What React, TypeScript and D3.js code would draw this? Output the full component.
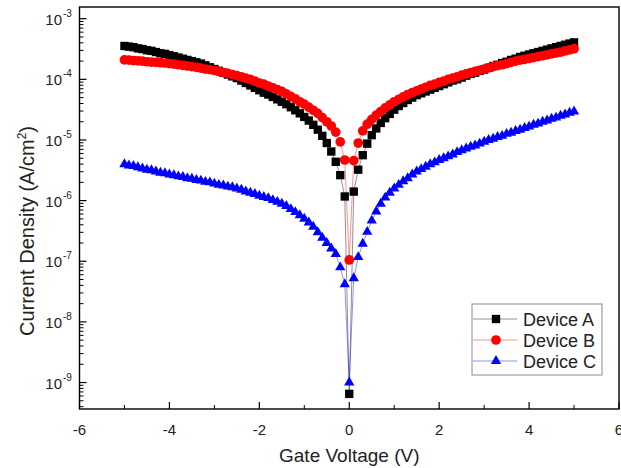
import React from 'react';
import * as d3 from 'd3';

// Gate voltage sweep (V)
const voltage = [
  -5.0, -4.9, -4.8, -4.7, -4.6, -4.5, -4.4, -4.3, -4.2, -4.1,
  -4.0, -3.9, -3.8, -3.7, -3.6, -3.5, -3.4, -3.3, -3.2, -3.1,
  -3.0, -2.9, -2.8, -2.7, -2.6, -2.5, -2.4, -2.3, -2.2, -2.1,
  -2.0, -1.9, -1.8, -1.7, -1.6, -1.5, -1.4, -1.3, -1.2, -1.1,
  -1.0, -0.9, -0.8, -0.7, -0.6, -0.5, -0.4, -0.3, -0.2, -0.1,
  0.0,
  0.1, 0.2, 0.3, 0.4, 0.5, 0.6, 0.7, 0.8, 0.9, 1.0,
  1.1, 1.2, 1.3, 1.4, 1.5, 1.6, 1.7, 1.8, 1.9, 2.0,
  2.1, 2.2, 2.3, 2.4, 2.5, 2.6, 2.7, 2.8, 2.9, 3.0,
  3.1, 3.2, 3.3, 3.4, 3.5, 3.6, 3.7, 3.8, 3.9, 4.0,
  4.1, 4.2, 4.3, 4.4, 4.5, 4.6, 4.7, 4.8, 4.9, 5.0,
];

// Current density (A/cm^2)
const deviceA = [
  3.55e-4, 3.47e-4, 3.39e-4, 3.24e-4, 3.16e-4, 3.02e-4, 2.95e-4, 2.82e-4, 2.69e-4, 2.63e-4,
  2.51e-4, 2.40e-4, 2.29e-4, 2.19e-4, 2.09e-4, 2.00e-4, 1.91e-4, 1.82e-4, 1.70e-4, 1.58e-4,
  1.48e-4, 1.38e-4, 1.29e-4, 1.20e-4, 1.12e-4, 1.05e-4, 9.55e-5, 8.71e-5, 7.94e-5, 7.24e-5,
  6.61e-5, 6.03e-5, 5.62e-5, 5.13e-5, 4.68e-5, 4.27e-5, 3.89e-5, 3.47e-5, 3.09e-5, 2.75e-5,
  2.40e-5, 2.09e-5, 1.78e-5, 1.48e-5, 1.17e-5, 8.91e-6, 6.46e-6, 4.37e-6, 2.63e-6, 1.17e-6,
  6.5e-10,
  1.41e-6, 3.24e-6, 5.62e-6, 8.71e-6, 1.20e-5, 1.55e-5, 1.91e-5, 2.29e-5, 2.69e-5, 3.16e-5,
  3.63e-5, 4.07e-5, 4.57e-5, 5.01e-5, 5.50e-5, 5.89e-5, 6.31e-5, 6.76e-5, 7.24e-5, 7.76e-5,
  8.32e-5, 8.91e-5, 9.55e-5, 1.00e-4, 1.07e-4, 1.15e-4, 1.23e-4, 1.29e-4, 1.38e-4, 1.45e-4,
  1.55e-4, 1.66e-4, 1.74e-4, 1.86e-4, 1.95e-4, 2.09e-4, 2.19e-4, 2.34e-4, 2.45e-4, 2.57e-4,
  2.69e-4, 2.82e-4, 2.95e-4, 3.09e-4, 3.24e-4, 3.39e-4, 3.55e-4, 3.72e-4, 3.89e-4, 4.07e-4,
];

const deviceB = [
  2.09e-4, 2.07e-4, 2.04e-4, 2.02e-4, 2.00e-4, 1.95e-4, 1.93e-4, 1.91e-4, 1.88e-4, 1.86e-4,
  1.82e-4, 1.78e-4, 1.74e-4, 1.70e-4, 1.66e-4, 1.62e-4, 1.58e-4, 1.53e-4, 1.48e-4, 1.45e-4,
  1.40e-4, 1.35e-4, 1.29e-4, 1.26e-4, 1.20e-4, 1.15e-4, 1.10e-4, 1.05e-4, 1.00e-4, 9.33e-5,
  8.71e-5, 8.32e-5, 7.76e-5, 7.24e-5, 6.76e-5, 6.31e-5, 5.75e-5, 5.25e-5, 4.79e-5, 4.27e-5,
  3.89e-5, 3.47e-5, 3.09e-5, 2.75e-5, 2.34e-5, 2.00e-5, 1.70e-5, 1.35e-5, 9.33e-6, 4.68e-6,
  1.05e-7,
  4.57e-6, 8.91e-6, 1.41e-5, 1.82e-5, 2.19e-5, 2.57e-5, 2.95e-5, 3.39e-5, 3.80e-5, 4.27e-5,
  4.68e-5, 5.13e-5, 5.62e-5, 6.03e-5, 6.46e-5, 6.92e-5, 7.41e-5, 7.94e-5, 8.32e-5, 8.91e-5,
  9.33e-5, 1.00e-4, 1.05e-4, 1.10e-4, 1.17e-4, 1.23e-4, 1.29e-4, 1.35e-4, 1.41e-4, 1.48e-4,
  1.55e-4, 1.62e-4, 1.68e-4, 1.74e-4, 1.82e-4, 1.91e-4, 2.00e-4, 2.07e-4, 2.14e-4, 2.21e-4,
  2.29e-4, 2.37e-4, 2.45e-4, 2.54e-4, 2.63e-4, 2.72e-4, 2.82e-4, 2.94e-4, 3.06e-4, 3.20e-4,
];

const deviceC = [
  3.98e-6, 3.80e-6, 3.72e-6, 3.55e-6, 3.39e-6, 3.24e-6, 3.16e-6, 3.02e-6, 2.88e-6, 2.82e-6,
  2.69e-6, 2.63e-6, 2.51e-6, 2.45e-6, 2.34e-6, 2.29e-6, 2.19e-6, 2.14e-6, 2.04e-6, 2.00e-6,
  1.91e-6, 1.82e-6, 1.78e-6, 1.70e-6, 1.66e-6, 1.58e-6, 1.51e-6, 1.41e-6, 1.35e-6, 1.29e-6,
  1.20e-6, 1.15e-6, 1.10e-6, 1.02e-6, 9.55e-7, 8.91e-7, 8.13e-7, 7.24e-7, 6.46e-7, 5.75e-7,
  5.01e-7, 4.37e-7, 3.72e-7, 3.02e-7, 2.45e-7, 2.00e-7, 1.62e-7, 1.32e-7, 7.94e-8, 4.17e-8,
  1.0e-9,
  5.25e-8, 1.17e-7, 1.95e-7, 3.05e-7, 4.68e-7, 6.61e-7, 8.91e-7, 1.12e-6, 1.35e-6, 1.58e-6,
  1.82e-6, 2.09e-6, 2.34e-6, 2.69e-6, 3.02e-6, 3.31e-6, 3.63e-6, 3.98e-6, 4.27e-6, 4.68e-6,
  5.01e-6, 5.37e-6, 5.75e-6, 6.31e-6, 6.76e-6, 7.24e-6, 7.76e-6, 8.13e-6, 8.71e-6, 9.33e-6,
  1.00e-5, 1.05e-5, 1.12e-5, 1.17e-5, 1.26e-5, 1.32e-5, 1.41e-5, 1.48e-5, 1.58e-5, 1.66e-5,
  1.78e-5, 1.86e-5, 2.00e-5, 2.09e-5, 2.24e-5, 2.34e-5, 2.51e-5, 2.63e-5, 2.82e-5, 2.95e-5,
];

const seriesNames = ['Device A', 'Device B', 'Device C'];
const xMajorTicks = [-6, -4, -2, 0, 2, 4, 6];
const xMinorTicks = [-5, -3, -1, 1, 3, 5];
const yDecadeExponents = [-3, -4, -5, -6, -7, -8, -9];

const W = 621;
const H = 468;
const FONT = '"Liberation Sans", Arial, sans-serif';

const styles = [
  { fill: '#000000', line: '#000000', shape: d3.symbolSquare, size: 70 },
  { fill: '#ff0000', line: '#ff0000', shape: d3.symbolCircle, size: 74 },
  { fill: '#0000ff', line: '#0000ff', shape: d3.symbolTriangle, size: 46 },
];

export default function App() {
  const left = 79.5;
  const right = 619;
  const top = 7;
  const bottom = 409;

  const x = d3.scaleLinear().domain([-6, 6]).range([left, right]);
  const y = d3.scaleLog().domain([3.66e-10, 1.56e-3]).range([bottom, top]);

  const series = [deviceA, deviceB, deviceC];
  const line = d3
    .line<number>()
    .x((_, i) => x(voltage[i]))
    .y((d) => y(d));

  const yMinor: number[] = [];
  for (let e = -10; e <= -3; e++) {
    for (let k = 2; k <= 9; k++) {
      const v = k * Math.pow(10, e);
      if (v > y.domain()[0] && v < y.domain()[1]) yMinor.push(v);
    }
  }

  const legendX = 472;
  const legendY = 304;
  const rowGap = 21;

  return (
    <svg
      width={W}
      height={H}
      style={{ position: 'absolute', left: 0, top: 0, background: '#fff' }}
      fontFamily={FONT}
    >
      <rect x={0} y={0} width={W} height={H} fill="#fff" />

      {/* connecting lines */}
      {series.map((s, si) => (
        <path
          key={`l${si}`}
          d={line(s) || ''}
          fill="none"
          stroke={styles[si].line}
          strokeOpacity={0.55}
          strokeWidth={0.8}
        />
      ))}

      {/* markers */}
      {series.map((s, si) => {
        const sym = d3.symbol().type(styles[si].shape).size(styles[si].size)();
        return (
          <g key={`m${si}`} fill={styles[si].fill}>
            {s.map((v, i) => (
              <path
                key={i}
                d={sym || ''}
                transform={`translate(${x(voltage[i])},${y(v)})`}
              />
            ))}
          </g>
        );
      })}

      {/* frame */}
      <rect
        x={left}
        y={top}
        width={right - left}
        height={bottom - top}
        fill="none"
        stroke="#000"
        strokeWidth={1.4}
      />

      {/* x ticks (inward) */}
      {xMajorTicks.map((t) => (
        <g key={`xt${t}`}>
          <line x1={x(t)} x2={x(t)} y1={bottom} y2={bottom - 7} stroke="#000" strokeWidth={1.2} />
          <text x={x(t)} y={435} textAnchor="middle" fontSize={15} fill="#222">
            {t}
          </text>
        </g>
      ))}
      {xMinorTicks.map((t) => (
        <line key={`xm${t}`} x1={x(t)} x2={x(t)} y1={bottom} y2={bottom - 4} stroke="#000" strokeWidth={1} />
      ))}

      {/* y ticks (inward) */}
      {yDecadeExponents.map((e) => {
        const yy = y(Math.pow(10, e));
        return (
          <g key={`yt${e}`}>
            <line x1={left} x2={left + 7} y1={yy} y2={yy} stroke="#000" strokeWidth={1.2} />
            <text x={62} y={yy + 6} textAnchor="end" fontSize={15} fill="#222">
              10
            </text>
            <text x={63} y={yy - 2} textAnchor="start" fontSize={10} fill="#222">
              {e}
            </text>
          </g>
        );
      })}
      {yMinor.map((v, i) => (
        <line key={`ym${i}`} x1={left} x2={left + 4} y1={y(v)} y2={y(v)} stroke="#000" strokeWidth={1} />
      ))}

      {/* axis titles */}
      <text x={(left + right) / 2} y={462} textAnchor="middle" fontSize={19} fill="#222">
        Gate Voltage (V)
      </text>
      <text
        transform={`translate(34,231) rotate(-90)`}
        textAnchor="middle"
        fontSize={20}
        fill="#222"
      >
        Current Density (A/cm
        <tspan fontSize={12} dy={-8}>2</tspan>
        <tspan dy={8}>)</tspan>
      </text>

      {/* legend */}
      <rect x={legendX} y={legendY} width={130} height={71} fill="#fff" stroke="#8a8a8a" strokeWidth={1} />
      {seriesNames.map((name, i) => {
        const cy = legendY + 15 + i * rowGap;
        const sym = d3.symbol().type(styles[i].shape).size(styles[i].size)();
        return (
          <g key={name}>
            <line
              x1={legendX + 1}
              x2={legendX + 45}
              y1={cy}
              y2={cy}
              stroke={styles[i].line}
              strokeOpacity={0.55}
              strokeWidth={0.8}
            />
            <path d={sym || ''} transform={`translate(${legendX + 24},${cy})`} fill={styles[i].fill} />
            <text x={legendX + 51} y={cy + 6.5} fontSize={18} fill="#222">
              {name}
            </text>
          </g>
        );
      })}
    </svg>
  );
}
